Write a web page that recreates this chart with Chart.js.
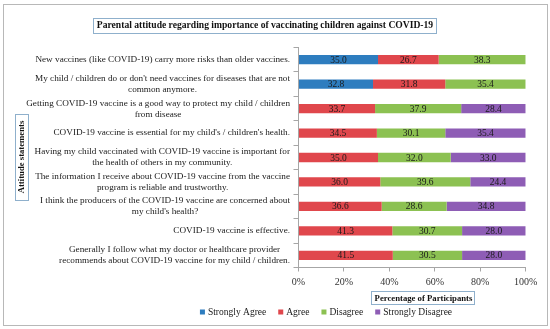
<!DOCTYPE html>
<html>
<head>
<meta charset="utf-8">
<script src="https://cdn.jsdelivr.net/npm/chart.js@4/dist/chart.umd.min.js"></script>
<style>
  html, body { margin: 0; padding: 0; background: #ffffff; }
  #wrap { width: 550px; height: 329px; position: relative; }
</style>
</head>
<body>
<div id="wrap"><canvas id="c" width="550" height="329"></canvas></div>
<script>
const categories = [
  ["New vaccines (like COVID-19) carry more risks than older vaccines."],
  ["My child / children do or don't need vaccines for diseases that are not", "common anymore."],
  ["Getting COVID-19 vaccine is a good way to protect my child / children", "from disease"],
  ["COVID-19 vaccine is essential for my child's / children's health."],
  ["Having my child vaccinated with COVID-19 vaccine is important for", "the health of others in my community."],
  ["The information I receive about COVID-19 vaccine from the vaccine", "program is reliable and trustworthy."],
  ["I think the producers of the COVID-19 vaccine are concerned about", "my child's health?"],
  ["COVID-19 vaccine is effective."],
  ["Generally I follow what my doctor or healthcare provider", "recommends about COVID-19 vaccine for my child / children."]
];
const seriesNames = ["Strongly Agree", "Agree", "Disagree", "Strongly Disagree"];
const stronglyAgree    = [35.0, 32.8, null, null, null, null, null, null, null];
const agree            = [26.7, 31.8, 33.7, 34.5, 35.0, 36.0, 36.6, 41.3, 41.5];
const disagree         = [38.3, 35.4, 37.9, 30.1, 32.0, 39.6, 28.6, 30.7, 30.5];
const stronglyDisagree = [null, null, 28.4, 35.4, 33.0, 24.4, 34.8, 28.0, 28.0];
const xTickValues = [0, 20, 40, 60, 80, 100];
const chartTitle = "Parental attitude regarding importance of vaccinating children against COVID-19";
const xTitle = "Percentage of Participants";
const yTitle = "Attitude statements";

const colors = ["#2E7DBF", "#E0474C", "#8CC152", "#8E5DB5"];
const FONT = "'Liberation Serif', 'Times New Roman', serif";

const decor = {
  id: 'decor',
  beforeDraw(chart) {
    const ctx = chart.ctx;
    ctx.save();
    ctx.fillStyle = '#fff';
    ctx.fillRect(0, 0, chart.width, chart.height);
    ctx.strokeStyle = '#b8b8b8';
    ctx.lineWidth = 1;
    ctx.strokeRect(3.5, 4.5, 544, 321);
    ctx.restore();
  },
  afterDraw(chart) {
    const ctx = chart.ctx;
    ctx.save();
    ctx.textAlign = 'center';
    ctx.textBaseline = 'middle';
    ctx.fillStyle = '#111';
    ctx.strokeStyle = '#8fb0cc';
    ctx.lineWidth = 1;
    // Title box
    ctx.font = "bold 9.6px " + FONT;
    ctx.fillText(chartTitle, 265, 26);
    ctx.strokeRect(93.5, 18.5, 343, 15);

    // X title box
    ctx.font = "bold 8.7px " + FONT;
    ctx.fillText(xTitle, 423.5, 298.5);
    ctx.strokeRect(371.5, 291.5, 103, 13);

    // Y title (rotated)
    ctx.font = "bold 8.7px " + FONT;
    ctx.save();
    ctx.translate(21.5, 157);
    ctx.rotate(-Math.PI / 2);
    ctx.fillText(yTitle, 0, 0.5);
    ctx.restore();
    ctx.strokeRect(15.5, 114.5, 13, 86);

    // Category labels: block right-aligned, lines centered within block
    const yScale = chart.scales.y;
    ctx.font = "9.2px " + FONT;
    ctx.fillStyle = '#1a1a1a';
    const rightX = 290;
    const lh = 11;
    categories.forEach((lines, i) => {
      const cy = yScale.getPixelForValue(i);
      const w = Math.max(...lines.map(l => ctx.measureText(l).width));
      const cx = rightX - w / 2;
      const y0 = cy - (lines.length - 1) * lh / 2;
      lines.forEach((l, j) => ctx.fillText(l, cx, y0 + j * lh));
    });

    // Data labels
    ctx.font = "9.5px " + FONT;
    ctx.fillStyle = '#1a1a1a';
    chart.data.datasets.forEach((ds, di) => {
      const meta = chart.getDatasetMeta(di);
      meta.data.forEach((bar, i) => {
        const v = ds.data[i];
        if (v === null || v === undefined) return;
        const p = bar.getProps(['x', 'y', 'base'], true);
        ctx.fillText(v.toFixed(1), (p.x + p.base) / 2, p.y + 0.5);
      });
    });

    // Legend
    ctx.font = "9.5px " + FONT;
    ctx.textAlign = 'left';
    const box = 5, gapT = 3, gapItem = 12;
    const widths = seriesNames.map(n => box + gapT + ctx.measureText(n).width);
    const total = widths.reduce((a, b) => a + b, 0) + gapItem * (widths.length - 1);
    let x = 326 - total / 2;
    const ly = 312;
    seriesNames.forEach((n, i) => {
      ctx.fillStyle = colors[i];
      ctx.fillRect(x, ly - box / 2, box, box);
      ctx.fillStyle = '#1a1a1a';
      ctx.fillText(n, x + box + gapT, ly + 0.5);
      x += widths[i] + gapItem;
    });
    ctx.restore();
  }
};

const data = {
  labels: categories.map(l => l.join(' ')),
  datasets: [stronglyAgree, agree, disagree, stronglyDisagree].map((arr, i) => ({
    label: seriesNames[i],
    data: arr,
    backgroundColor: colors[i],
    borderWidth: 0,
    barPercentage: 0.38,
    categoryPercentage: 1.0
  }))
};

new Chart(document.getElementById('c'), {
  type: 'bar',
  data,
  options: {
    indexAxis: 'y',
    responsive: false,
    animation: false,
    devicePixelRatio: 1,
    layout: { padding: { top: 47.5, left: 0, right: 24.3, bottom: 0 } },
    plugins: { legend: { display: false }, tooltip: { enabled: false }, title: { display: false } },
    scales: {
      x: {
        stacked: true,
        min: 0, max: 100,
        afterBuildTicks: (s) => { s.ticks = xTickValues.map(v => ({ value: v })); },
        afterFit: (s) => { s.height = 61.5; },
        border: { color: '#a6a6a6' },
        grid: { drawOnChartArea: false, tickLength: 4, color: '#a6a6a6' },
        ticks: {
          padding: 5,
          color: '#333',
          font: { family: FONT, size: 10 },
          callback: (v) => v + '%'
        }
      },
      y: {
        stacked: true,
        afterFit: (s) => { s.width = 298.5; },
        border: { color: '#a6a6a6' },
        grid: { drawOnChartArea: false, tickLength: 5, color: '#a6a6a6', offset: true },
        ticks: { display: false }
      }
    }
  },
  plugins: [decor]
});
</script>
</body>
</html>
